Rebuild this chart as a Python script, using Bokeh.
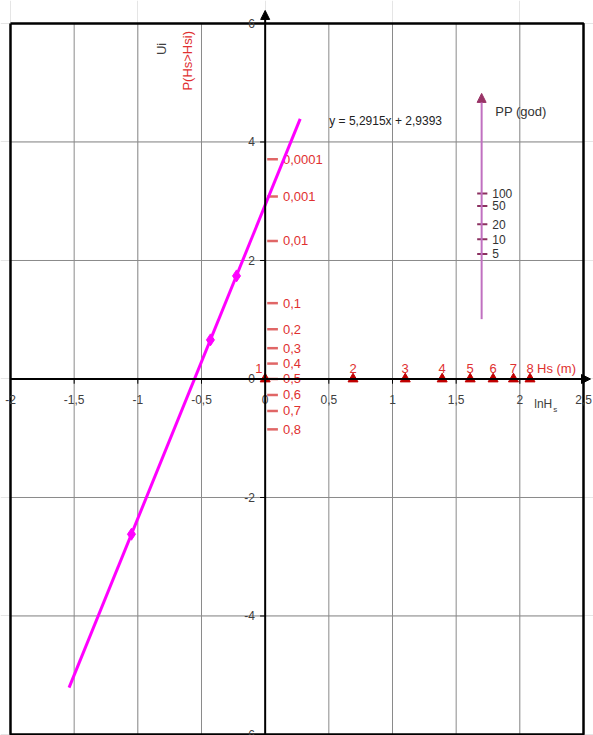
from bokeh.plotting import figure
from bokeh.models import Range1d, Arrow, NormalHead
from bokeh.core.properties import value
from bokeh.embed import file_html
from bokeh.resources import INLINE

# ---------------- data ----------------
x_ticks = [-2, -1.5, -1, -0.5, 0, 0.5, 1, 1.5, 2, 2.5]
x_tick_labels = ["-2", "-1,5", "-1", "-0,5", "0", "0,5", "1", "1,5", "2", "2,5"]
y_ticks = [-6, -4, -2, 0, 2, 4, 6]
y_tick_labels = ["-6", "-4", "-2", "0", "2", "4", "6"]
x_grid = [-1.5, -1, -0.5, 0.5, 1, 1.5, 2]
y_grid = [-4, -2, 2, 4]

# measured points (ln Hs, Ui)
pts_x = [-1.05, -0.43, -0.225]
pts_y = [-2.62, 0.66, 1.74]
# trend line y = 5,2915x + 2,9393 (ends)
trend_x = [-1.54, 0.275]
trend_y = [-5.21, 4.39]
equation = "y = 5,2915x + 2,9393"

# Hs (m) scale on ln axis
hs_labels = ["1", "2", "3", "4", "5", "6", "7", "8"]
hs_ln = [0.0, 0.69, 1.10, 1.39, 1.61, 1.79, 1.95, 2.08]
hs_label_dx = [-0.05, 0, 0, 0, 0, 0, 0, 0]

# probability scale P(Hs>Hsi)
p_labels = ["0,0001", "0,001", "0,01", "0,1", "0,2", "0,3", "0,4", "0,5", "0,6", "0,7", "0,8"]
p_u = [3.71, 3.08, 2.33, 1.28, 0.84, 0.52, 0.26, 0.0, -0.27, -0.54, -0.85]

# return period PP (god)
pp_labels = ["100", "50", "20", "10", "5"]
pp_u = [3.13, 2.92, 2.61, 2.36, 2.11]
pp_x = 1.70
pp_range = [1.01, 4.82]

# ---------------- figure ----------------
X_MIN, X_MAX, Y_MIN, Y_MAX = -2, 2.5, -6, 6
p = figure(width=593, height=735,
           x_range=Range1d(-2.0785, 2.5785), y_range=Range1d(-6.017, 6.388),
           x_axis_location=None, y_axis_location=None,
           output_backend="svg", toolbar_location=None, min_border=0)
p.outline_line_color = None
p.background_fill_color = "white"

FONT = value("Liberation Sans")
GRAY = "#404040"
RED = "#E03030"

# grid
p.segment(x0=x_grid, y0=[Y_MIN] * len(x_grid), x1=x_grid, y1=[Y_MAX] * len(x_grid),
          line_color="#8a8a8a", line_width=1)
p.segment(x0=[X_MIN] * len(y_grid), y0=y_grid, x1=[X_MAX] * len(y_grid), y1=y_grid,
          line_color="#8a8a8a", line_width=1)

# box
p.line([X_MIN, X_MAX, X_MAX, X_MIN, X_MIN], [Y_MAX, Y_MAX, Y_MIN, Y_MIN, Y_MAX],
       line_color="black", line_width=2.5)

# axes through origin with arrows
p.add_layout(Arrow(x_start=X_MIN, y_start=0, x_end=2.555, y_end=0, line_width=2,
                   line_color="black",
                   end=NormalHead(size=9, fill_color="black", line_color="black")))
p.add_layout(Arrow(x_start=0, y_start=Y_MIN, x_end=0, y_end=6.22, line_width=2,
                   line_color="black",
                   end=NormalHead(size=9, fill_color="black", line_color="black")))

# axis tick marks
p.segment(x0=x_ticks, y0=[0] * len(x_ticks), x1=x_ticks, y1=[-0.08] * len(x_ticks),
          line_color="black", line_width=1)
p.segment(x0=[-0.04] * len(y_ticks), y0=y_ticks, x1=[0] * len(y_ticks), y1=y_ticks,
          line_color="black", line_width=1)

# tick labels
p.text(x=x_ticks, y=[-0.34] * len(x_ticks), text=x_tick_labels,
       text_font=FONT, text_font_size="12px", text_color=GRAY,
       text_align="center", text_baseline="middle")
p.text(x=[-0.08] * len(y_ticks), y=y_ticks, text=y_tick_labels,
       text_font=FONT, text_font_size="12px", text_color=GRAY,
       text_align="right", text_baseline="middle")

# axis titles
p.text(x=[-0.817], y=[5.57], text=["Ui"], angle=1.5708,
       text_font=FONT, text_font_size="13px", text_color=GRAY,
       text_align="center", text_baseline="middle")
p.text(x=[-0.607], y=[5.37], text=["P(Hs>Hsi)"], angle=1.5708,
       text_font=FONT, text_font_size="13px", text_color=RED,
       text_align="center", text_baseline="middle")
p.text(x=[2.113], y=[-0.42], text=["lnH"],
       text_font=FONT, text_font_size="12px", text_color=GRAY,
       text_align="left", text_baseline="middle")
p.text(x=[2.262], y=[-0.52], text=["s"],
       text_font=FONT, text_font_size="8px", text_color=GRAY,
       text_align="left", text_baseline="middle")

# probability scale
p.segment(x0=[0.016] * len(p_u), y0=p_u, x1=[0.1] * len(p_u), y1=p_u,
          line_color="#E06666", line_width=2.5)
p.text(x=[0.14] * len(p_u), y=p_u, text=p_labels,
       text_font=FONT, text_font_size="13px", text_color=RED,
       text_align="left", text_baseline="middle")

# trend line and points
p.line(trend_x, trend_y, line_color="#FF00FF", line_width=3)
p.scatter(pts_x, pts_y, marker="diamond", size=12,
          fill_color="#FF00FF", line_color="#FF00FF")
p.text(x=[0.503], y=[4.35], text=[equation],
       text_font=FONT, text_font_size="12px", text_color="#222222",
       text_align="left", text_baseline="middle")

# Hs scale
p.scatter(hs_ln, [0] * len(hs_ln), marker="triangle", size=10,
          fill_color="#C00000", line_color="#C00000")
p.text(x=[a + b for a, b in zip(hs_ln, hs_label_dx)], y=[0.18] * len(hs_ln),
       text=hs_labels, text_font=FONT, text_font_size="13px", text_color=RED,
       text_align="center", text_baseline="middle")
p.text(x=[2.135], y=[0.18], text=["Hs (m)"],
       text_font=FONT, text_font_size="13px", text_color=RED,
       text_align="left", text_baseline="middle")

# return-period scale
p.add_layout(Arrow(x_start=pp_x, y_start=pp_range[0], x_end=pp_x, y_end=pp_range[1],
                   line_width=2, line_color="#C070C0",
                   end=NormalHead(size=9, fill_color="#993366", line_color="#993366")))
p.segment(x0=[pp_x - 0.035] * len(pp_u), y0=pp_u, x1=[pp_x + 0.045] * len(pp_u), y1=pp_u,
          line_color="#8B3060", line_width=2)
p.text(x=[1.783] * len(pp_u), y=pp_u, text=pp_labels,
       text_font=FONT, text_font_size="12px", text_color="#333333",
       text_align="left", text_baseline="middle")
p.text(x=[1.807], y=[4.51], text=["PP (god)"],
       text_font=FONT, text_font_size="13px", text_color="#333333",
       text_align="left", text_baseline="middle")

open("out.html", "w").write(file_html(p, INLINE))
